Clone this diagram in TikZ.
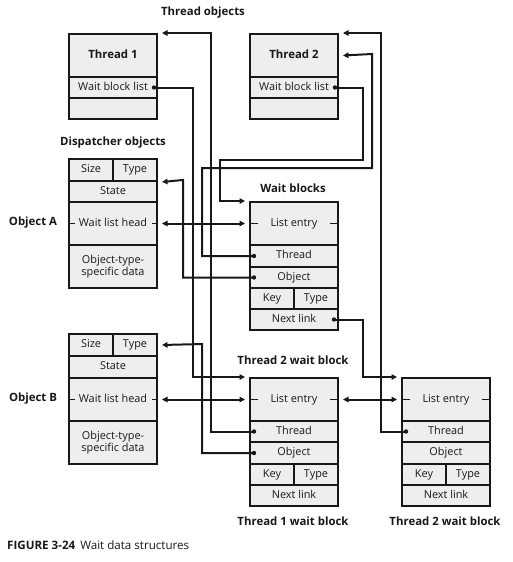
\documentclass[tikz,border=0pt]{standalone}
\usepackage{fontspec}
\setmainfont{Open Sans}
\usetikzlibrary{arrows.meta,calc}
\definecolor{cellgray}{HTML}{EEEEEE}
\definecolor{ink}{HTML}{1A1718}
\begin{document}
\begin{tikzpicture}[x=1pt,y=-1pt,
  cell/.style={draw=ink, line width=2pt, fill=cellgray, inner sep=0pt, anchor=north west,
     minimum width=88pt, text=ink, font=\fontsize{10.9}{12.5}\selectfont, align=center,
     execute at begin node={\vphantom{Ay}}},
  half/.style={cell, minimum width=44pt},
  lbl/.style={text=ink, font=\fontsize{11.4}{13}\selectfont\bfseries, inner sep=0pt},
  conn/.style={draw=ink, line width=2pt},
  arr/.style={conn, -{Triangle[length=5.5pt,width=5.5pt]}},
  darr/.style={conn, {Triangle[length=5.5pt,width=5.5pt]}-{Triangle[length=5.5pt,width=5.5pt]}},
  tick/.style={draw=ink, line width=1.5pt},
  cdot/.style={fill=ink}
]
\useasboundingbox (0,0) rectangle (512,562);

% ---------- Thread objects ----------
\node[lbl] (lthr) at (203,13) {Thread objects};
\node[cell, minimum height=43pt, font=\fontsize{11.4}{13}\selectfont\bfseries] (t1) at (68,33) {Thread 1};
\node[cell, minimum height=21pt] (t1wbl) at (68,76) {Wait block list};
\node[cell, minimum height=21pt] (t1x) at (68,97) {};

\node[cell, minimum height=43pt, font=\fontsize{11.4}{13}\selectfont\bfseries] (t2) at (249,33) {Thread 2};
\node[cell, minimum height=21pt] (t2wbl) at (249,76) {Wait block list};
\node[cell, minimum height=21pt] (t2x) at (249,97) {};

% ---------- Dispatcher objects ----------
\node[lbl] (ldisp) at (113,143) {Dispatcher objects};
\node[lbl] (loa) at (33,223) {Object A};
\node[half, minimum height=22pt] (sizeA) at (68,158) {Size};
\node[half, minimum height=22pt] (typeA) at (112,158) {Type};
\node[cell, minimum height=21pt] (stateA) at (68,180) {State};
\node[cell, minimum height=43pt] (wlhA) at (68,201) {Wait list head};
\node[cell, minimum height=43pt] (otsA) at (68,244) {Object-type-\\specific data};

\node[lbl] (lob) at (33,399) {Object B};
\node[half, minimum height=22pt] (sizeB) at (68,333) {Size};
\node[half, minimum height=22pt] (typeB) at (112,333) {Type};
\node[cell, minimum height=22pt] (stateB) at (68,355) {State};
\node[cell, minimum height=43pt] (wlhB) at (68,377) {Wait list head};
\node[cell, minimum height=43pt] (otsB) at (68,420) {Object-type-\\specific data};

% ---------- Wait blocks ----------
\node[lbl] (lwb) at (293,188) {Wait blocks};
\node[cell, minimum height=43pt] (aLe) at (249,201) {List entry};
\node[cell, minimum height=22pt] (aTh) at (249,244) {Thread};
\node[cell, minimum height=21pt] (aOb) at (249,266) {Object};
\node[half, minimum height=21pt] (aKey) at (249,287) {Key};
\node[half, minimum height=21pt] (aTy) at (293,287) {Type};
\node[cell, minimum height=21pt] (aNl) at (249,308) {Next link};

\node[lbl] (lt2a) at (293,360) {Thread 2 wait block};
\node[cell, minimum height=43pt] (bLe) at (249,377) {List entry};
\node[cell, minimum height=21pt] (bTh) at (249,420) {Thread};
\node[cell, minimum height=22pt] (bOb) at (249,441) {Object};
\node[half, minimum height=21pt] (bKey) at (249,463) {Key};
\node[half, minimum height=21pt] (bTy) at (293,463) {Type};
\node[cell, minimum height=21pt] (bNl) at (249,484) {Next link};
\node[lbl] (lt1) at (293,521) {Thread 1 wait block};

\node[cell, minimum height=43pt] (cLe) at (401,377) {List entry};
\node[cell, minimum height=21pt] (cTh) at (401,420) {Thread};
\node[cell, minimum height=22pt] (cOb) at (401,441) {Object};
\node[half, minimum height=21pt] (cKey) at (401,463) {Key};
\node[half, minimum height=21pt] (cTy) at (445,463) {Type};
\node[cell, minimum height=21pt] (cNl) at (401,484) {Next link};
\node[lbl] (lt2b) at (445,521) {Thread 2 wait block};

% caption
\node[anchor=west, inner sep=0pt, text=ink, font=\fontsize{11.6}{13}\selectfont] (cap) at (7,545)
  {\textbf{FIGURE 3-24}\hspace{5pt}Wait data structures};

% ---------- ticks ----------
\foreach \n in {wlhA,wlhB} {
  \draw[tick] (\n.west) -- ++(7,0);
  \draw[tick] (\n.east) -- ++(-6,0);
}
\foreach \n in {aLe,bLe,cLe} {
  \draw[tick] (\n.west) -- ++(9,0);
  \draw[tick] (\n.east) -- ++(-9,0);
}

% ---------- dots ----------
\coordinate (d1) at ($(t1wbl.east)+(-4,0)$);
\coordinate (d2) at ($(t2wbl.east)+(-4,0)$);
\coordinate (d3) at ($(aTh.west)+(5,0)$);
\coordinate (d4) at ($(aOb.west)+(5,0)$);
\coordinate (d5) at ($(aNl.east)+(-5,0)$);
\coordinate (d6) at ($(bTh.west)+(5,0)$);
\coordinate (d7) at ($(bOb.west)+(5,0)$);
\coordinate (d8) at ($(cTh.west)+(5,0)$);
\foreach \d in {d1,d2,d3,d4,d5,d6,d7,d8} \fill[cdot] (\d) circle (2.2pt);

% ---------- targets ----------
\coordinate (tT1) at ($(t1.north east)+(4,0)$);
\coordinate (tT2a) at ($(t2.north east)+(4,0)$);
\coordinate (tT2b) at ($(t2.east)+(4,0)$);
\coordinate (tA) at ($(typeA.south east)+(4,0)$);
\coordinate (tB) at ($(typeB.east)+(4,0)$);
\coordinate (tWa) at ($(aLe.north west)+(-4,0)$);
\coordinate (tWb) at ($(bLe.north west)+(-4,0)$);
\coordinate (tWc) at ($(cLe.north west)+(-4,0)$);

% ---------- connectors ----------
\draw[arr] (d1) -| (193,360) |- (tWb);
\draw[arr] (d6) -| (211,33) -- (tT1);
\draw[arr] (d7) -| (202,344) -- (tB);
\draw[arr] (d2) -| (363,160) -| (220,190) |- (tWa);
\draw[arr] (d3) -| (202,168) -| (372,54) -- (tT2b);
\draw[arr] (d4) -| (183,180) -- (tA);
\draw[arr] (d5) -| (363,360) |- (tWc);
\draw[arr] (d8) -| (381,33) -- (tT2a);
\draw[darr] ($(wlhA.east)+(4,0)$) -- ($(aLe.west)+(-4,0)$);
\draw[darr] ($(wlhB.east)+(4,0)$) -- ($(bLe.west)+(-4,0)$);
\draw[darr] ($(bLe.east)+(4,0)$) -- ($(cLe.west)+(-4,0)$);
\end{tikzpicture}
\end{document}
